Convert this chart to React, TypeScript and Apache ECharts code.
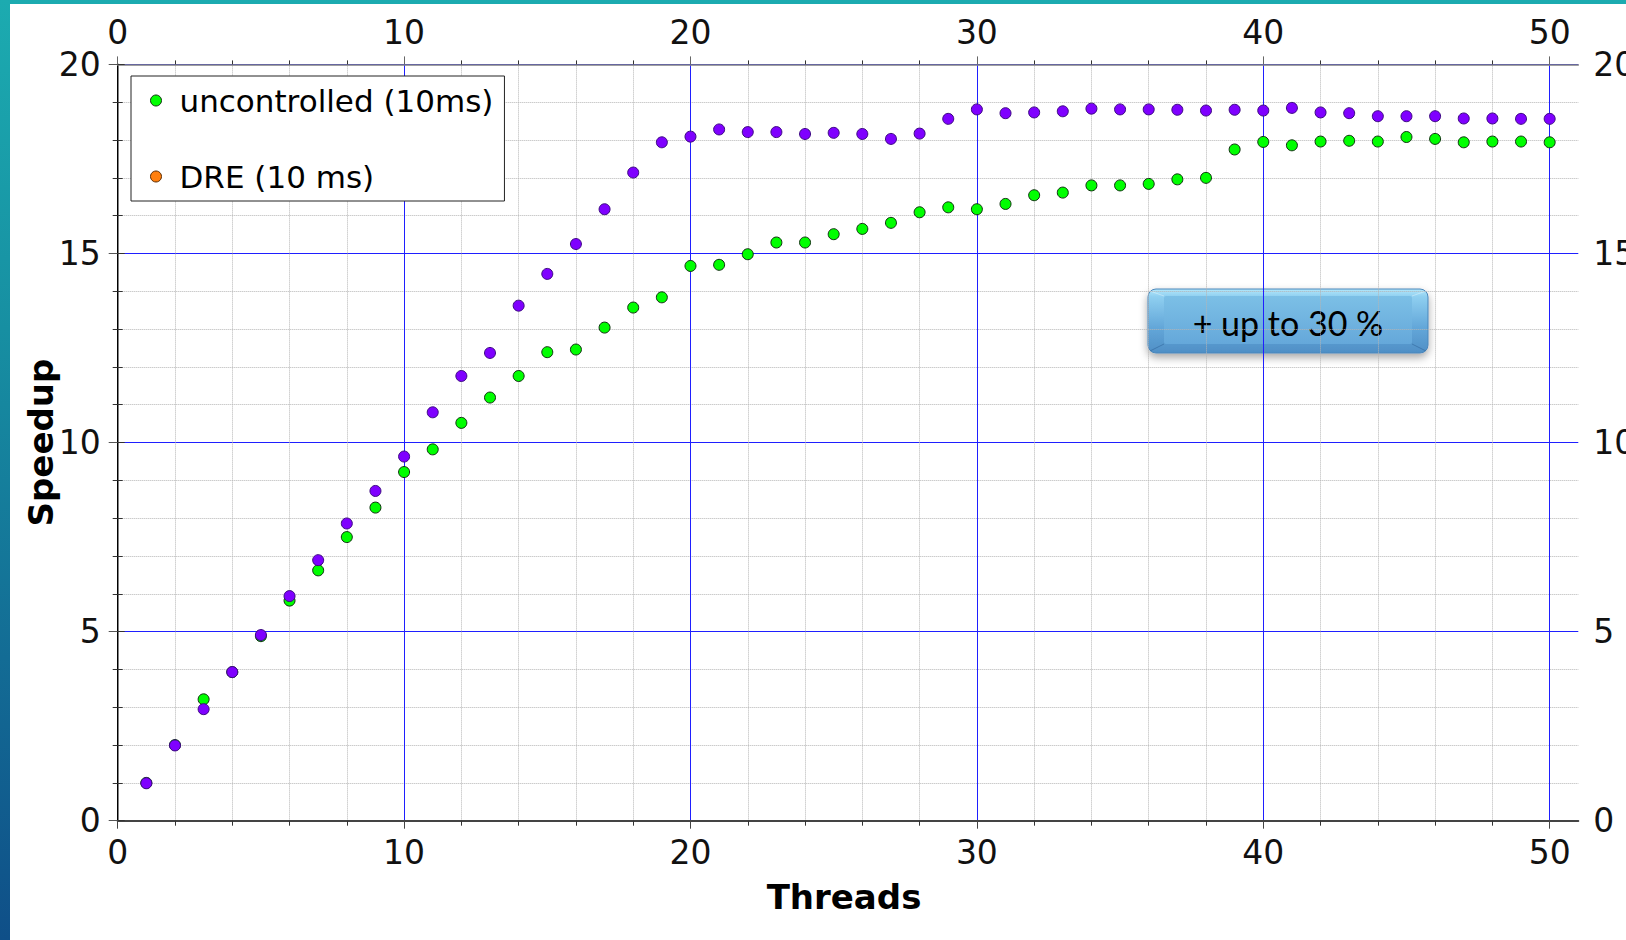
import React, { useEffect, useRef } from 'react';
import * as echarts from 'echarts';

const threads = [1, 2, 3, 4, 5, 6, 7, 8, 9, 10, 11, 12, 13, 14, 15, 16, 17, 18, 19, 20, 21, 22, 23, 24, 25, 26, 27, 28, 29, 30, 31, 32, 33, 34, 35, 36, 37, 38, 39, 40, 41, 42, 43, 44, 45, 46, 47, 48, 49, 50];

const uncontrolled = [1.0, 2.0, 3.21, 3.93, 4.88, 5.82, 6.62, 7.5, 8.28, 9.22, 9.82, 10.52, 11.19, 11.76, 12.39, 12.46, 13.04, 13.57, 13.84, 14.67, 14.7, 14.98, 15.29, 15.29, 15.51, 15.65, 15.81, 16.09, 16.22, 16.17, 16.31, 16.54, 16.61, 16.8, 16.8, 16.84, 16.96, 17.0, 17.75, 17.95, 17.86, 17.96, 17.98, 17.96, 18.08, 18.03, 17.94, 17.96, 17.96, 17.94];

const dre = [0.99, 1.99, 2.95, 3.93, 4.91, 5.94, 6.89, 7.86, 8.72, 9.63, 10.8, 11.76, 12.37, 13.62, 14.46, 15.25, 16.17, 17.14, 17.94, 18.09, 18.28, 18.21, 18.21, 18.16, 18.19, 18.16, 18.03, 18.17, 18.56, 18.81, 18.71, 18.73, 18.76, 18.83, 18.81, 18.81, 18.8, 18.78, 18.8, 18.78, 18.85, 18.73, 18.71, 18.63, 18.63, 18.63, 18.57, 18.57, 18.56, 18.56];

const seriesNames = ['uncontrolled (10ms)', 'DRE (10 ms)'];
const xMajorTicks = [0, 10, 20, 30, 40, 50];
const xMinorTicks = [2, 4, 6, 8, 12, 14, 16, 18, 22, 24, 26, 28, 32, 34, 36, 38, 42, 44, 46, 48];
const annotationText = '+ up to 30 %';

const FONT = 'DejaVu Sans';
const BLUE = '#1f1fff';
const DOT = '#b5b5b5';

export default function App() {
  const ref = useRef<HTMLDivElement>(null);

  useEffect(() => {
    const chart = echarts.init(ref.current!, null, { renderer: 'svg' });
    const labelStyle = { fontFamily: FONT, fontSize: 33, color: '#111' };
    const baseX = { type: 'value', min: 0, max: 51, gridIndex: 0 };

    const option: any = {
      animation: false,
      backgroundColor: '#ffffff',
      grid: { left: 107.7, top: 60.4, right: 47.7, bottom: 119.3, containLabel: false, outerBoundsMode: 'none' },
      legend: {
        show: true,
        orient: 'vertical',
        left: 121,
        top: 72,
        padding: [9, 11, 9, 19],
        itemGap: 45,
        itemWidth: 11,
        itemHeight: 11,
        borderColor: '#222',
        borderWidth: 1,
        backgroundColor: '#fff',
        icon: 'circle',
        textStyle: { fontFamily: FONT, fontSize: 31, color: '#000', padding: [0, 0, 0, 13] },
        data: [
          { name: seriesNames[0], itemStyle: { color: '#00ff00', borderColor: '#103010', borderWidth: 1 } },
          { name: seriesNames[1], itemStyle: { color: '#ff7f0e', borderColor: '#5a2a00', borderWidth: 1 } },
        ],
      },
      xAxis: [
        {
          ...baseX,
          position: 'bottom',
          interval: 2,
          axisLine: { show: false },
          axisLabel: { show: false },
          axisTick: { show: true, customValues: xMinorTicks, length: 5, lineStyle: { color: '#333' } },
          splitLine: { show: true, lineStyle: { color: DOT, type: 'dotted', width: 1 } },
        },
        {
          ...baseX,
          position: 'bottom',
          interval: 10,
          name: 'Threads',
          nameLocation: 'middle',
          nameGap: 59,
          nameTextStyle: { fontFamily: FONT, fontSize: 34, fontWeight: 'bold', color: '#000', padding: [0, 8, 0, 0] },
          axisLine: { show: true, lineStyle: { color: '#444', width: 2 } },
          axisLabel: { show: true, customValues: xMajorTicks, margin: 15, ...labelStyle },
          axisTick: { show: true, customValues: xMajorTicks, length: 8, lineStyle: { color: '#444' } },
          splitLine: { show: true, lineStyle: { color: BLUE, width: 1 } },
        },
        {
          ...baseX,
          position: 'top',
          interval: 2,
          axisLine: { show: false },
          axisLabel: { show: false },
          axisTick: { show: true, customValues: xMinorTicks, length: 4, lineStyle: { color: '#333' } },
          splitLine: { show: false },
        },
        {
          ...baseX,
          position: 'top',
          interval: 10,
          axisLine: { show: true, lineStyle: { color: '#808080', width: 1.5 } },
          axisLabel: { show: true, customValues: xMajorTicks, margin: 15, ...labelStyle },
          axisTick: { show: true, customValues: xMajorTicks, length: 8, lineStyle: { color: '#666' } },
          splitLine: { show: false },
        },
      ],
      yAxis: [
        {
          type: 'value',
          position: 'left',
          min: 0,
          max: 20,
          interval: 5,
          name: 'Speedup',
          nameLocation: 'middle',
          nameGap: 60,
          nameMoveOverlap: false,
          nameTextStyle: { fontFamily: FONT, fontSize: 34, fontWeight: 'bold', color: '#000' },
          axisLine: { show: true, lineStyle: { color: '#808080', width: 2 } },
          axisLabel: { show: true, margin: 17, ...labelStyle },
          axisTick: { show: true, length: 9, lineStyle: { color: '#555' } },
          minorTick: { show: true, splitNumber: 5, length: 5, lineStyle: { color: '#333' } },
          splitLine: { show: true, lineStyle: { color: BLUE, width: 1 } },
          minorSplitLine: { show: true, lineStyle: { color: DOT, type: 'dotted', width: 1 } },
        },
        {
          type: 'value',
          position: 'right',
          min: 0,
          max: 20,
          interval: 5,
          axisLine: { show: true, lineStyle: { color: '#000', width: 1 } },
          axisLabel: { show: true, margin: 15, ...labelStyle },
          axisTick: { show: true, length: 7, lineStyle: { color: '#333' } },
          minorTick: { show: true, splitNumber: 5, length: 5, lineStyle: { color: '#333' } },
          splitLine: { show: false },
          minorSplitLine: { show: false },
        },
      ],
      series: [
        {
          type: 'scatter',
          name: seriesNames[0],
          xAxisIndex: 1,
          yAxisIndex: 0,
          data: threads.map((t, i) => [t, uncontrolled[i]]),
          symbol: 'circle',
          symbolSize: 11,
          itemStyle: { color: '#00ff00', borderColor: '#103010', borderWidth: 1, opacity: 1 },
          z: 3,
        },
        {
          type: 'scatter',
          name: seriesNames[1],
          xAxisIndex: 1,
          yAxisIndex: 0,
          data: threads.map((t, i) => [t, dre[i]]),
          symbol: 'circle',
          symbolSize: 11,
          itemStyle: { color: '#7f00ff', borderColor: '#3b0a80', borderWidth: 1, opacity: 1 },
          z: 4,
        },
      ],
      graphic: [
        {
          type: 'group',
          x: 1138,
          y: 285,
          z: 100,
          children: [
            {
              type: 'rect',
              shape: { x: 0, y: 0, width: 280, height: 64, r: 8 },
              style: {
                fill: {
                  type: 'linear', x: 0, y: 0, x2: 0, y2: 1,
                  colorStops: [
                    { offset: 0, color: '#b4e8fb' },
                    { offset: 0.12, color: '#8fcff0' },
                    { offset: 0.6, color: '#63a7d9' },
                    { offset: 1, color: '#4f8fc6' },
                  ],
                },
                stroke: '#4a86ba',
                lineWidth: 1,
                shadowBlur: 8,
                shadowOffsetY: 4,
                shadowColor: 'rgba(0,0,0,0.35)',
              },
            },
            {
              type: 'rect',
              shape: { x: 16, y: 7, width: 248, height: 48, r: 2 },
              style: {
                fill: {
                  type: 'linear', x: 0, y: 0, x2: 0, y2: 1,
                  colorStops: [
                    { offset: 0, color: '#7cc0e6' },
                    { offset: 1, color: '#65a8da' },
                  ],
                },
              },
            },
            { type: 'line', shape: { x1: 2, y1: 2, x2: 16, y2: 7 }, style: { stroke: 'rgba(255,255,255,0.35)', lineWidth: 1 } },
            { type: 'line', shape: { x1: 278, y1: 2, x2: 264, y2: 7 }, style: { stroke: 'rgba(255,255,255,0.35)', lineWidth: 1 } },
            { type: 'line', shape: { x1: 2, y1: 62, x2: 16, y2: 55 }, style: { stroke: 'rgba(0,40,90,0.25)', lineWidth: 1 } },
            { type: 'line', shape: { x1: 278, y1: 62, x2: 264, y2: 55 }, style: { stroke: 'rgba(0,40,90,0.25)', lineWidth: 1 } },
            {
              type: 'text',
              style: {
                text: annotationText,
                x: 140,
                y: 33,
                align: 'center',
                verticalAlign: 'middle',
                fontFamily: 'Lato',
                fontSize: 34,
                fill: '#000',
              },
            },
          ],
        },
      ],
    };

    chart.setOption(option);
    return () => chart.dispose();
  }, []);

  return (
    <div
      style={{
        position: 'fixed',
        left: 0,
        top: 0,
        width: 1626,
        height: 940,
        background: 'linear-gradient(180deg, #1cabb0 0%, #178fa2 35%, #136c95 70%, #0f4f88 100%)',
      }}
    >
      <div
        ref={ref}
        style={{ position: 'absolute', left: 10, top: 4, width: 1616, height: 936, background: '#fff' }}
      />
    </div>
  );
}
